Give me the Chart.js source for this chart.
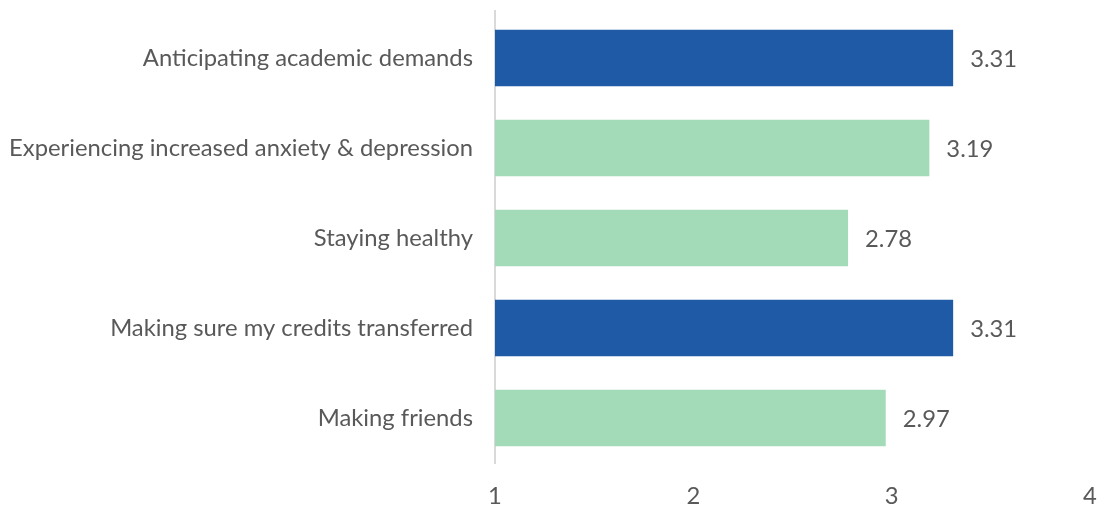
<!DOCTYPE html>
<html><head><meta charset="utf-8">
<script src="https://cdn.jsdelivr.net/npm/chart.js@4/dist/chart.umd.min.js"></script>
<style>html,body{margin:0;padding:0;background:#fff;overflow:hidden}#w{width:1101px;height:508px}</style>
</head><body><div id="w"><canvas id="c"></canvas></div>
<script>
const categories = ["Anticipating academic demands","Experiencing increased anxiety & depression","Staying healthy","Making sure my credits transferred","Making friends"];
const values = [3.31, 3.19, 2.78, 3.31, 2.97];
const barColors = ["#1F5AA6","#A3DBB8","#A3DBB8","#1F5AA6","#A3DBB8"];
const xTicks = [1,2,3,4];
const FONT = "Lato";
const FS = 23.8;
const valueLabels = {
  id:'valueLabels',
  afterDatasetsDraw(chart){
    const ctx=chart.ctx; const meta=chart.getDatasetMeta(0);
    ctx.save(); ctx.font=FS+"px "+FONT; ctx.fillStyle="#595959"; ctx.textBaseline="middle"; ctx.textAlign="left";
    meta.data.forEach((b,i)=>{ ctx.fillText(values[i].toFixed(2), b.x+17, b.y+1); });
    ctx.restore();
  }
};
const axisTop = {
  id:'axisTop',
  beforeDatasetsDraw(chart){
    const ctx=chart.ctx, a=chart.chartArea, x=chart.scales.x.getPixelForValue(1);
    ctx.save(); ctx.strokeStyle="#D9D9D9"; ctx.lineWidth=2;
    ctx.beginPath(); ctx.moveTo(x,10); ctx.lineTo(x,a.top); ctx.stroke(); ctx.restore();
  }
};
new Chart(document.getElementById('c'),{
  type:'bar',
  data:{labels:categories,datasets:[{data:values,backgroundColor:barColors,categoryPercentage:1,barPercentage:0.63,base:1}]},
  options:{
    indexAxis:'y',responsive:true,maintainAspectRatio:false,animation:false,
    layout:{padding:{top:13,right:11,bottom:0,left:0}},
    plugins:{legend:{display:false},tooltip:{enabled:false}},
    scales:{
      x:{min:1,max:4,afterBuildTicks(s){s.ticks=xTicks.map(v=>({value:v}));},
        afterFit(s){s.height=45;s.paddingLeft=0;s.paddingRight=0;},
        grid:{display:false,drawTicks:false},border:{display:false},
        ticks:{font:{family:FONT,size:FS},color:"#595959",padding:19,maxRotation:0}},
      y:{grid:{display:false,drawTicks:false},border:{display:true,color:"#D9D9D9",width:2},
        afterFit(s){s.width=495;s.paddingTop=0;s.paddingBottom=0;},
        ticks:{font:{family:FONT,size:FS},color:"#595959",padding:22}}
    }
  },
  plugins:[valueLabels,axisTop]
});
</script></body></html>
